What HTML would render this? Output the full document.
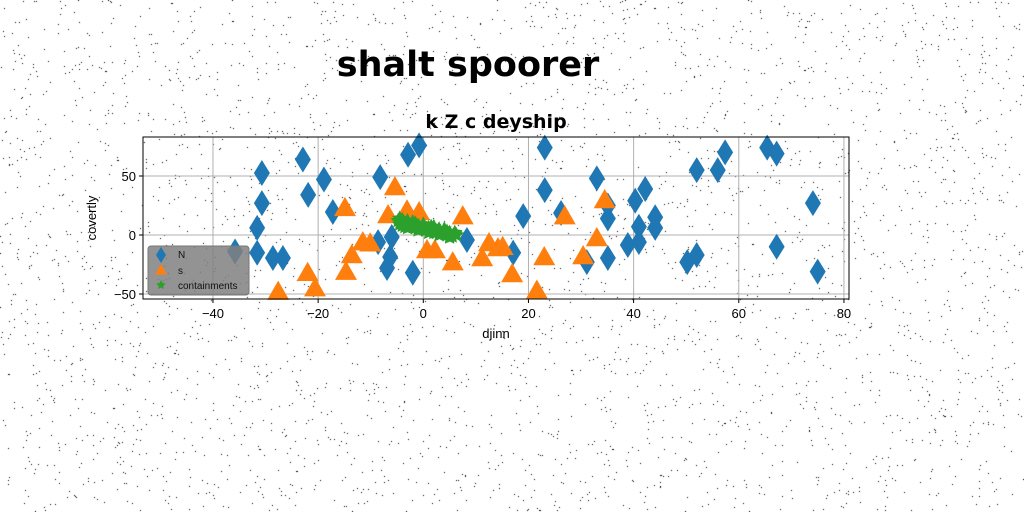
<!DOCTYPE html>
<html><head><meta charset="utf-8"><style>
html,body{margin:0;padding:0;background:#fff;}
#wrap{position:relative;width:1024px;height:512px;overflow:hidden;font-family:"Liberation Sans","DejaVu Sans",sans-serif;}
canvas{position:absolute;left:0;top:0;}
svg{position:absolute;left:0;top:0;}
</style></head><body>
<div id="wrap">
<canvas id="noise" width="1024" height="512"></canvas>
<svg id="chart" width="1024" height="512"></svg>
</div>
<script>
const nX=[-30.7,-30.7,-31.6,-31.6,-35.8,-28.6,-26.7,-22.9,-21.9,-18.9,-17.2,-8.2,-2.9,-0.8,-8.6,-6,-6.3,-6.9,-2,8.3,23.1,23.1,19,26.2,33,35.1,35.1,17.1,31.1,35.1,40.3,42.2,44.1,44.1,41,41,38.9,52,57.4,56,65.4,67.2,74.1,67.2,50.2,52,75];
const nY=[52.5,27,6,-15,-14,-19.5,-19.5,64,34,47,19.5,49,68,76,-6,-1.7,-18.6,-28,-32,-4.2,74,38,16,18.6,48,25,14,-15,-23,-19.5,29,39,15,6,7,-6,-8.5,55,70,55,74,69,27,-10,-23,-17,-31];
const sX=[-5.4,-14.9,-6.7,-3.1,-0.8,7.5,-11.5,-10.1,-13.6,-22,-20.6,-27.6,-14.7,0.7,2.2,5.6,11.2,12.5,14.2,15.1,16.9,21.6,23,26.9,34.5,33,30.4];
const sY=[40.7,23,17,21,19.5,16,-6,-7,-17,-32,-45,-48,-31,-12.7,-12.7,-23,-19.5,-6.8,-11,-10,-33,-47,-18.6,16,29.7,-2.5,-17.8];
const cX=[-4.8,-4.5,-4,-3.5,-3,-2.5,-2,-1.5,-1,-0.5,0,0.5,1,1.5,2,2.5,3,3.5,4,4.5,5,5.5,6,6.3,-4,-2,0,2,4,-3,-1,1,3,5,-4.5,-3,-1.5,0,1.5,3,4.5,6,-4,-2.5,-1,0.5,2,3.5,5];
const cY=[12,9,11,7,10,8,9,6,8,5,7,4,6,3,5,2,4,1,3,0,2,-1,1,0,13,11,9,7,5,6,4,2,0,-2,14,12,10,9,7,5,3,2,8,7,5,4,2,1,-1];
const xTicks=[-40,-20,0,20,40,60,80];
const yTicks=[-50,0,50];

(function(){const c=document.getElementById('noise').getContext('2d');let s=12345;const r=()=>{s=(s*1103515245+12345)%2147483648;return s/2147483648;};c.fillStyle='#000';for(let i=0;i<3500;i++){c.fillRect(Math.floor(r()*1024),Math.floor(r()*512),1,1);}})();

const L=143,R=849,T=137,B=299;
const xs=v=>423.3+v*5.258;
const ys=v=>235-v*1.18;
const svg=document.getElementById('chart');
const NS='http://www.w3.org/2000/svg';
function mk(tag,attrs,parent){const e=document.createElementNS(NS,tag);for(const k in attrs)e.setAttribute(k,attrs[k]);(parent||svg).appendChild(e);return e;}

const plotBg=mk('rect',{x:L,y:T,width:R-L,height:B-T,fill:'none'});



xTicks.forEach(t=>{const x=xs(t);
 const g=mk('line',{x1:x,x2:x,y1:T,y2:B,stroke:'#b0b0b0','stroke-width':1});
 
 
 mk('line',{x1:x,x2:x,y1:B,y2:B+4,stroke:'#000'});
 const tx=mk('text',{x:x,y:B+19,'text-anchor':'middle','font-size':13,fill:'#000'});tx.textContent=t===0?'0':(t<0?'\u2212'+(-t):t);
 
 
});
yTicks.forEach(t=>{const y=ys(t);
 const g=mk('line',{x1:L,x2:R,y1:y,y2:y,stroke:'#b0b0b0','stroke-width':1});
 
 
 mk('line',{x1:L-4,x2:L,y1:y,y2:y,stroke:'#000'});
 const tx=mk('text',{x:L-7,y:y+5,'text-anchor':'end','font-size':13,fill:'#000'});tx.textContent=t===0?'0':(t<0?'\u2212'+(-t):t);
 
 
});

function diamond(x,y,col,p,w,h){return mk('polygon',{points:`${x},${y-h} ${x+w},${y} ${x},${y+h} ${x-w},${y}`,fill:col},p);}
function tri(x,y,col,p,w,h){return mk('polygon',{points:`${x},${y-h} ${x+w},${y+h*0.75} ${x-w},${y+h*0.75}`,fill:col},p);}
function star(x,y,col,p,r){let pts=[];for(let i=0;i<10;i++){const a=-Math.PI/2+i*Math.PI/5;const rr=i%2?r*0.5:r;pts.push((x+rr*Math.cos(a)).toFixed(1)+','+(y+rr*Math.sin(a)).toFixed(1));}return mk('polygon',{points:pts.join(' '),fill:col},p);}

const gN=mk('g',{});


nX.forEach((v,i)=>{const d=diamond(xs(v),ys(nY[i]),'#1f77b4',gN,8,13);
 
 });
const gS=mk('g',{});


sX.forEach((v,i)=>{const d=tri(xs(v),ys(sY[i]),'#ff7f0e',gS,11,11);
 
 });
const gC=mk('g',{});


cX.forEach((v,i)=>{const d=star(xs(v),ys(cY[i]),'#2ca02c',gC,8);
 
 });

const frame=mk('rect',{x:L,y:T,width:R-L,height:B-T,fill:'none',stroke:'#000','stroke-width':1});



const lg=mk('g',{});


mk('rect',{x:148,y:246,width:101,height:49,rx:3,fill:'#808080','fill-opacity':0.85,stroke:'#777'},lg);
const l1=diamond(161,255,'#1f77b4',lg,5,8);


const l2=tri(161,270,'#ff7f0e',lg,6,6);


const l3=star(161,285,'#2ca02c',lg,5);


[['N',258],['s',274],['containments',289]].forEach(([t,y],i)=>{const e=mk('text',{x:178,y:y,'font-size':10,fill:'#111'},lg);e.textContent=t;
 
 });

const t1=mk('text',{x:468,y:76,'text-anchor':'middle','font-size':35,'font-weight':'bold','font-family':'DejaVu Sans, sans-serif',fill:'#000'});t1.textContent='shalt spoorer';


const t2=mk('text',{x:496,y:128,'text-anchor':'middle','font-size':19,'font-weight':'bold','font-family':'DejaVu Sans, sans-serif',fill:'#000'});t2.textContent='k Z c deyship';


const xl=mk('text',{x:496,y:338,'text-anchor':'middle','font-size':13,fill:'#000'});xl.textContent='djinn';


const yl=mk('text',{x:0,y:0,'text-anchor':'middle','font-size':13,fill:'#000',transform:'translate(96,218) rotate(-90)'});yl.textContent='covertly';


</script>
</body></html>
